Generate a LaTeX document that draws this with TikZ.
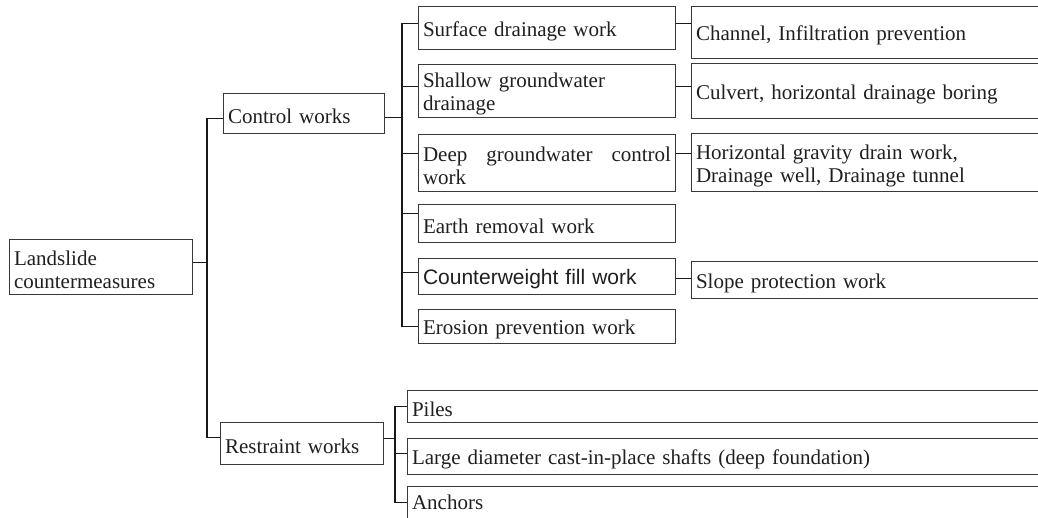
\documentclass[tikz,border=0pt]{standalone}
\usepackage{fontspec}
\setmainfont{Liberation Serif}
\newfontfamily\sansf{Liberation Sans}
\begin{document}
\begin{tikzpicture}[x=1pt,y=-1pt,
  plainbox/.style={draw=black!78, line width=1.1pt, anchor=north west, inner xsep=4.5pt, inner ysep=0pt,
    align=left, font=\fontsize{21}{23}\selectfont, text=black!88},
  box/.style={plainbox, execute at begin node={\rule{0pt}{21pt}}},
  conn/.style={draw=black!90, line width=1.6pt}]
\useasboundingbox (0,0) rectangle (1038,517);
\clip (0,0) rectangle (1038,517);
% level 0/1
\node[box, minimum width=183pt, minimum height=55pt, text width=174pt] (ls) at (9,239) {Landslide\\countermeasures};
\node[box, minimum width=161pt, minimum height=40pt, text width=152pt] (cw) at (223,93) {Control works};
\node[box, minimum width=163pt, minimum height=42pt, text width=154pt] (rw) at (220,422) {Restraint works};
% control works children
\node[box, minimum width=257pt, minimum height=43pt, text width=248pt] (sd) at (418,6) {Surface drainage work};
\node[box, minimum width=257pt, minimum height=53pt, text width=248pt] (sg) at (418,64) {Shallow groundwater\\drainage};
\node[box, minimum width=257pt, minimum height=57pt, text width=248pt] (dg) at (418,134) {Deep\hfill groundwater\hfill control\\work};
\node[box, minimum width=257pt, minimum height=38pt, text width=248pt] (er) at (418,204) {Earth removal work};
\node[box, minimum width=257pt, minimum height=36pt, text width=248pt, font=\sansf\fontsize{21}{23}\selectfont] (cf) at (418,258) {Counterweight fill work};
\node[box, minimum width=257pt, minimum height=34pt, text width=248pt] (ep) at (418,309) {Erosion prevention work};
% third column
\node[box, minimum width=389pt, minimum height=52pt, text width=380pt] (ch) at (691,6) {Channel, Infiltration prevention};
\node[box, minimum width=389pt, minimum height=55pt, text width=380pt] (cu) at (691,63) {Culvert, horizontal drainage boring};
\node[box, minimum width=389pt, minimum height=58pt, text width=380pt] (hg) at (691,133) {Horizontal gravity drain work,\\Drainage well, Drainage tunnel};
\node[box, minimum width=389pt, minimum height=37pt, text width=380pt] (sp) at (691,261) {Slope protection work};
% restraint works children
\node[box, minimum width=673pt, minimum height=32pt, text width=664pt] (pi) at (407,390) {Piles};
\node[box, minimum width=673pt, minimum height=36pt, text width=664pt] (ld) at (407,438) {Large diameter cast-in-place shafts (deep foundation)};
\node[plainbox, minimum width=673pt, minimum height=32pt, text width=664pt] (an) at (407,486) {Anchors};
% trunks
\coordinate (A) at (207,0);
\coordinate (B) at (402,0);
\coordinate (C) at (395,0);
% connectors
\draw[conn] ([yshift=4.5pt]ls.east) -- ([yshift=4.5pt]ls.east -| A);
\draw[conn] ([yshift=-5pt]cw.west) -| ([yshift=6pt]rw.west -| A) -- ([yshift=6pt]rw.west);
\draw[conn] ([yshift=-4pt]cw.east) -- ([yshift=-4pt]cw.east -| B);
\draw[conn] ([yshift=4.5pt]sd.west) -| (ep.west -| B) -- (ep.west);
\draw[conn] ([yshift=4.5pt]sg.west) -- ([yshift=4.5pt]sg.west -| B);
\draw[conn] ([yshift=9.5pt]dg.west) -- ([yshift=9.5pt]dg.west -| B);
\draw[conn] ([yshift=10pt]er.west) -- ([yshift=10pt]er.west -| B);
\draw[conn] ([yshift=4pt]cf.west) -- ([yshift=4pt]cf.west -| B);
\draw[conn] ([yshift=4.5pt]sd.east) -- ([yshift=4.5pt]sd.east -| ch.west);
\draw[conn] ([yshift=4.5pt]sg.east) -- ([yshift=4.5pt]sg.east -| cu.west);
\draw[conn] ([yshift=9.5pt]dg.east) -- ([yshift=9.5pt]dg.east -| hg.west);
\draw[conn] ([yshift=-2pt]cf.east) -- ([yshift=-2pt]cf.east -| sp.west);
\draw[conn] ([yshift=5pt]rw.east) -- ([yshift=5pt]rw.east -| C);
\draw[conn] (pi.west) -| (an.west -| C) -- (an.west);
\draw[conn] ([yshift=3pt]ld.west) -- ([yshift=3pt]ld.west -| C);
\end{tikzpicture}
\end{document}
